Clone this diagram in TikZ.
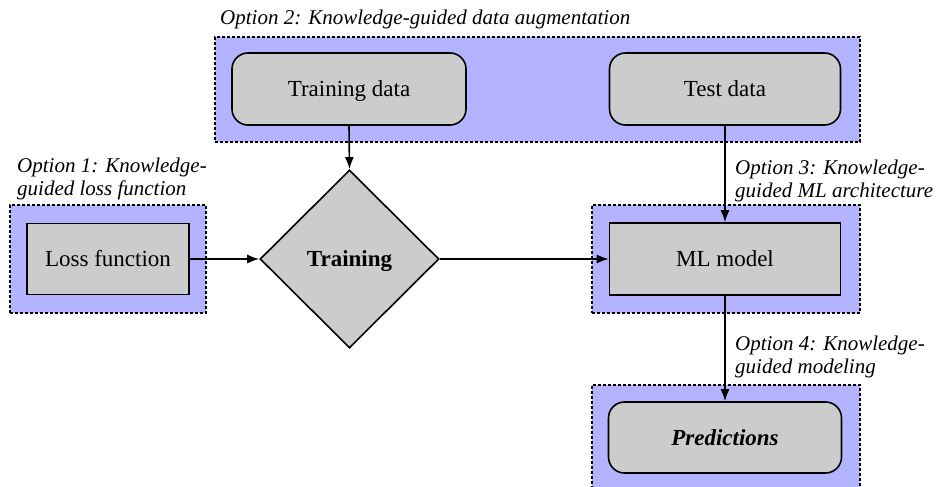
\documentclass[tikz,border=0pt]{standalone}
\usepackage{fontspec}
\setmainfont{Liberation Serif}
\usetikzlibrary{shapes.geometric,arrows.meta}

\definecolor{zoneblue}{RGB}{179,179,255}
\definecolor{boxgray}{RGB}{204,204,204}

\tikzset{
  zone/.style={draw=black, fill=zoneblue, line width=1.3pt,
    dash pattern=on 3pt off 2pt, minimum width=#1, inner sep=0pt},
  plainbox/.style={draw=black, fill=boxgray, line width=1.6pt, inner sep=0pt,
    text height=15pt, text depth=0pt,
    font=\fontsize{23}{27}\selectfont},
  roundbox/.style={plainbox, rounded corners=16pt},
  decision/.style={diamond, draw=black, fill=boxgray, line width=1.6pt,
    inner sep=0pt, minimum width=179pt, minimum height=178pt,
    text height=15pt, text depth=0pt,
    font=\fontsize{23}{27}\selectfont\bfseries},
  optlabel/.style={anchor=west, align=left, inner sep=0pt,
    font=\fontsize{21}{23}\selectfont\itshape},
  flow/.style={line width=1.6pt, -{Latex[length=12pt,width=9pt]}}
}

\begin{document}
\begin{tikzpicture}[x=1pt,y=-1pt]
  \useasboundingbox (0,0) rectangle (938,487);
  \begin{scope}
    \clip (0,0) rectangle (938,487);

    % option zones
    \node[zone=645pt, minimum height=105pt] (z2) at (537.5,89.5) {};
    \node[zone=196pt, minimum height=108pt] (z1) at (108,259) {};
    \node[zone=268pt, minimum height=108pt] (z3) at (726,259) {};
    \node[zone=268pt, minimum height=108pt] (z4) at (726,439) {};

    % components
    \node[roundbox, minimum width=234pt, minimum height=72pt] (train) at (349,89) {Training data};
    \node[roundbox, minimum width=231pt, minimum height=72pt] (test) at (725,89) {Test data};
    \node[plainbox, minimum width=162pt, minimum height=71pt] (loss) at (108,259) {Loss function};
    \node[decision] (fit) at (349.5,259) {Training};
    \node[plainbox, minimum width=231pt, minimum height=72pt] (model) at (725,259) {ML model};
    \node[roundbox, minimum width=233pt, minimum height=71pt,
          font=\fontsize{23}{27}\selectfont\bfseries\itshape] (pred) at (725,437.5) {Predictions};

    % option labels
    \node[optlabel] (l2) at (220,19) {Option 2: Knowledge-guided data augmentation};
    \node[optlabel] (l1) at (17,179) {Option 1: Knowledge-\\guided loss function};
    \node[optlabel] (l3) at (735,181) {Option 3: Knowledge-\\guided ML architecture};
    \node[optlabel] (l4) at (735,357) {Option 4: Knowledge-\\guided modeling};

    % data flow
    \draw[flow] (train.south) -- (fit.north);
    \draw[flow] (loss.east) -- (fit.west);
    \draw[flow] (fit.east) -- (model.west);
    \draw[flow] (test.south) -- (model.north);
    \draw[flow] (model.south) -- (pred.north);
  \end{scope}
\end{tikzpicture}
\end{document}
